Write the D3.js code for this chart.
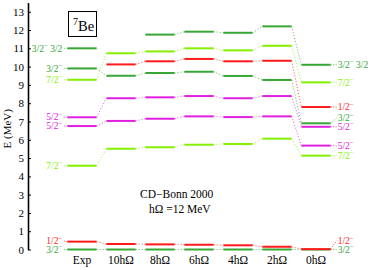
<html>
<head>
<script src="https://d3js.org/d3.v7.min.js"></script>
<style>
  body { margin: 0; background: #fff; }
  text { font-family: "Liberation Serif", "DejaVu Serif", serif; }
</style>
</head>
<body>
<svg id="chart" width="374" height="270"></svg>
<script>
// columns of the level scheme
const columns = ["Exp", "10h\u03A9", "8h\u03A9", "6h\u03A9", "4h\u03A9", "2h\u03A9", "0h\u03A9"];
const yTicks = [0, 1, 2, 3, 4, 5, 6, 7, 8, 9, 10, 11, 12, 13];

// level energies (MeV), one array per state, null = not shown
const e32T = [11.0, null, 11.75, 11.91, 11.85, 12.2, 10.1];
const e72b = [9.28, 10.73, 10.83, 11.0, 10.89, 11.14, 9.14];
const e12b = [null, 10.12, 10.29, 10.42, 10.29, 10.32, 7.79];
const e32b = [9.9, 9.5, 9.65, 9.72, 9.49, 9.27, 6.9];
const e52b = [7.23, 8.27, 8.32, 8.39, 8.27, 8.39, 6.71];
const e52a = [6.75, 7.03, 7.15, 7.28, 7.24, 7.28, 5.68];
const e72a = [4.58, 5.51, 5.59, 5.73, 5.77, 6.06, 5.13];
const e32a = [0, 0, 0, 0, 0, 0, 0];
const e12a = [0.43, 0.30, 0.28, 0.26, 0.23, 0.15, 0.02];

const darkGreen = "#36a636", lightGreen = "#84f000", red = "#ff1a1a", magenta = "#e020e0";

const states = [
  { e: e32a, spin: "3/2", iso: "", color: darkGreen },
  { e: e12a, spin: "1/2", iso: "", color: red },
  { e: e72a, spin: "7/2", iso: "", color: lightGreen },
  { e: e52a, spin: "5/2", iso: "", color: magenta },
  { e: e52b, spin: "5/2", iso: "", color: magenta },
  { e: e32b, spin: "3/2", iso: "", color: darkGreen },
  { e: e12b, spin: "1/2", iso: "", color: red },
  { e: e72b, spin: "7/2", iso: "", color: lightGreen },
  { e: e32T, spin: "3/2", iso: " 3/2", color: darkGreen }
];

const svg = d3.select("#chart");

const x = d3.scaleBand()
  .domain(columns)
  .range([62.5, 335.5])
  .paddingInner(0.25)
  .paddingOuter(0.125);
const bw = x.bandwidth();

const y = d3.scaleLinear()
  .domain([0, 13.5])
  .range([249.5, 2.6]);

// y axis
const yAxis = svg.append("g")
  .attr("transform", "translate(28,0)")
  .call(d3.axisLeft(y).tickValues(yTicks).tickSizeInner(-3).tickSizeOuter(0).tickPadding(4));
yAxis.select(".domain").attr("stroke", "#000").attr("stroke-width", 1.6);
yAxis.selectAll(".tick line").attr("stroke", "#000");
yAxis.selectAll(".tick text")
  .attr("font-family", "Liberation Serif, serif")
  .attr("font-size", 11)
  .attr("fill", "#000");

svg.append("text")
  .attr("transform", "translate(11," + y(6.6) + ") rotate(-90)")
  .attr("text-anchor", "middle")
  .attr("font-size", 11)
  .text("E (MeV)");

// column labels
svg.append("g").selectAll("text").data(columns).enter().append("text")
  .attr("x", d => x(d) + bw / 2)
  .attr("y", 264)
  .attr("text-anchor", "middle")
  .attr("font-size", 11.5)
  .text(d => d);

// connectors between neighbouring columns
const conn = svg.append("g");
states.forEach(s => {
  for (let i = 0; i < columns.length - 1; i++) {
    if (s.e[i] == null || s.e[i + 1] == null) continue;
    conn.append("line")
      .attr("x1", x(columns[i]) + bw).attr("y1", y(s.e[i]))
      .attr("x2", x(columns[i + 1])).attr("y2", y(s.e[i + 1]))
      .attr("stroke", s.color)
      .attr("stroke-width", 1)
      .attr("stroke-dasharray", "1,2")
      .attr("opacity", 0.8);
  }
});

// levels
const lev = svg.append("g");
states.forEach(s => {
  lev.selectAll(null)
    .data(s.e.map((v, i) => ({ v: v, c: columns[i] })).filter(d => d.v != null))
    .enter().append("line")
    .attr("x1", d => x(d.c)).attr("x2", d => x(d.c) + bw)
    .attr("y1", d => y(d.v)).attr("y2", d => y(d.v))
    .attr("stroke", s.color)
    .attr("stroke-width", 2);
});

// spin labels on both sides, spread so they do not overlap
function spread(items) {
  items.sort((a, b) => b.ly - a.ly);
  for (let i = 1; i < items.length; i++) {
    if (items[i].ly > items[i - 1].ly - 8.7) items[i].ly = items[i - 1].ly - 8.7;
  }
  return items;
}

function sideLabels(col, side) {
  const idx = columns.indexOf(col);
  const items = spread(states.filter(s => s.e[idx] != null)
    .map(s => ({ s: s, ly: y(s.e[idx]), y0: y(s.e[idx]) })));
  const g = svg.append("g");
  items.forEach(d => {
    const xe = side === "left" ? x(col) : x(col) + bw;
    const xt = side === "left" ? xe - 5 : xe + 7;
    g.append("line")
      .attr("x1", xe).attr("y1", d.y0)
      .attr("x2", side === "left" ? xe - 5 : xe + 6).attr("y2", d.ly)
      .attr("stroke", d.s.color).attr("stroke-width", 1)
      .attr("stroke-dasharray", "1,1.5").attr("opacity", 0.8);
    const t = g.append("text")
      .attr("x", xt)
      .attr("y", d.ly + 3.2)
      .attr("text-anchor", side === "left" ? "end" : "start")
      .attr("font-size", 9.5)
      .attr("fill", d.s.color);
    t.append("tspan").text(d.s.spin);
    t.append("tspan").attr("dy", -3.5).attr("font-size", 7).text("\u2212");
    if (d.s.iso) t.append("tspan").attr("dy", 3.5).text(d.s.iso);
  });
}
sideLabels("Exp", "left");
sideLabels("0h\u03A9", "right");

// nucleus box
svg.append("rect")
  .attr("x", 68.5).attr("y", 11.5)
  .attr("width", 28).attr("height", 25)
  .attr("fill", "#fff").attr("stroke", "#000").attr("stroke-width", 1);
const nuc = svg.append("text")
  .attr("x", 73).attr("y", 31)
  .attr("font-size", 14.5);
nuc.append("tspan").attr("dy", -6).attr("font-size", 10).text("7");
nuc.append("tspan").attr("dy", 6).text("Be");

// interaction note
svg.append("text").attr("x", 140).attr("y", 198).attr("font-size", 11.5).text("CD\u2212Bonn 2000");
svg.append("text").attr("x", 149).attr("y", 212.5).attr("font-size", 11.5).text("h\u03A9 =12 MeV");
</script>
</body>
</html>
